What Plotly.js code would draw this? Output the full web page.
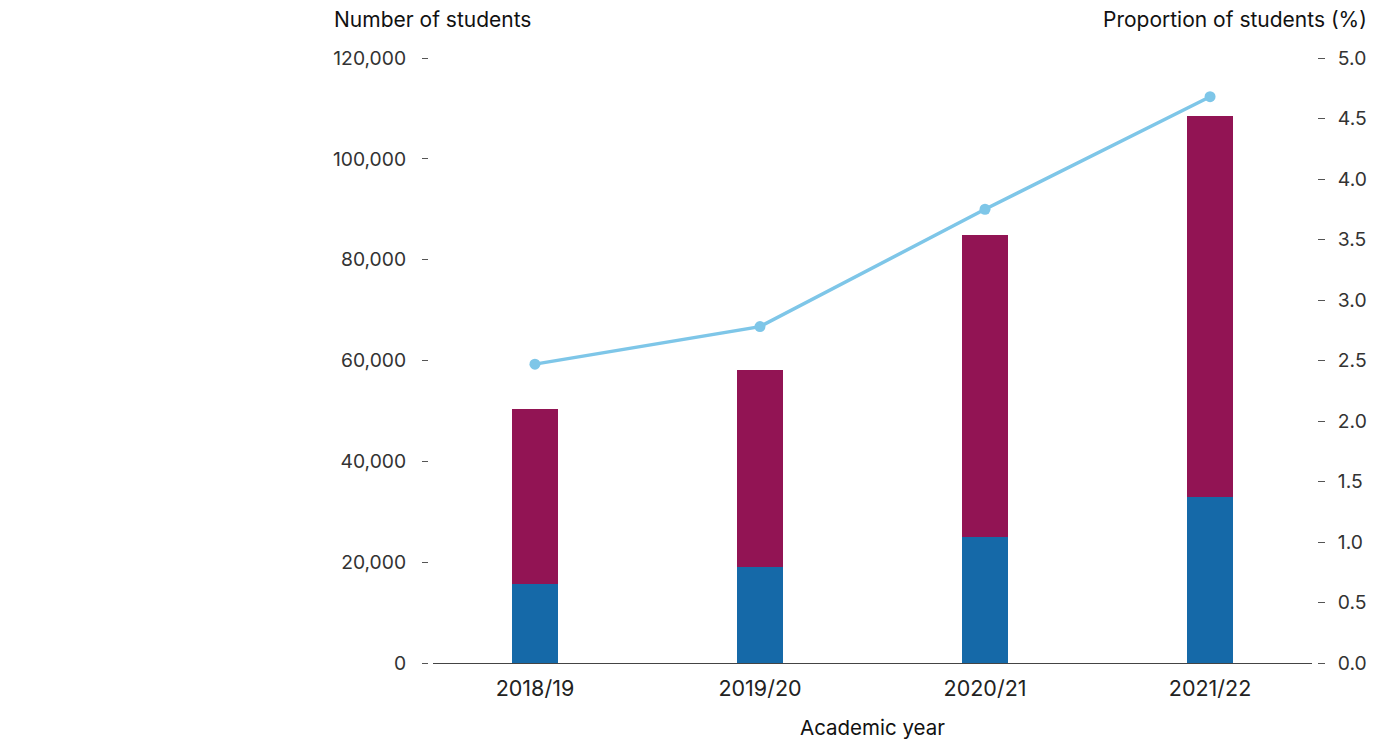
<!DOCTYPE html>
<html>
<head>
<meta charset="utf-8">
<script src="https://cdn.plot.ly/plotly-3.0.1.min.js"></script>
<style>html,body{margin:0;padding:0;background:#fff;}#chart{width:1385px;height:740px;}</style>
</head>
<body>
<div id="chart"></div>
<script>
const years = ["2018/19", "2019/20", "2020/21", "2021/22"];
const groupA = [15700, 19000, 25000, 32900];          // blue (lower segment)
const groupB = [34700, 39100, 59900, 75600];          // magenta (upper segment)
const proportion = [2.47, 2.78, 3.75, 4.68];          // % of students (right axis)
const leftTicks = [0, 20000, 40000, 60000, 80000, 100000, 120000];
const rightTicks = [0, 0.5, 1, 1.5, 2, 2.5, 3, 3.5, 4, 4.5, 5];

const FONT = "Inter, 'Liberation Sans', Arial, sans-serif";

const traces = [
  {type: "bar", x: years, y: groupA, name: "Group A", marker: {color: "#1569a8"}, width: 0.205, hoverinfo: "y"},
  {type: "bar", x: years, y: groupB, name: "Group B", marker: {color: "#921454"}, width: 0.205, hoverinfo: "y"},
  {type: "scatter", mode: "lines+markers", x: years, y: proportion, yaxis: "y2", name: "Proportion",
   line: {color: "#7ec6e8", width: 3.5}, marker: {color: "#7ec6e8", size: 11}}
];

const W = 905;
const layout = {
  width: 1385, height: 740,
  margin: {l: 420, r: 60, t: 58, b: 77},
  barmode: "stack",
  showlegend: false,
  paper_bgcolor: "#fff", plot_bgcolor: "#fff",
  font: {family: FONT, size: 18, color: "#333"},
  xaxis: {
    domain: [13 / W, 892 / W],
    range: [-0.453, 3.453],
    showline: true, linecolor: "#444", linewidth: 1,
    ticks: "", showgrid: false, zeroline: false,
    ticklabelstandoff: 6,
    tickfont: {family: FONT, size: 21.5, color: "#222"},
    title: {text: "Academic year", font: {family: FONT, size: 20.5, color: "#111"}, standoff: 22}
  },
  yaxis: {
    anchor: "free", position: 8 / W,
    range: [0, 120000], tickvals: leftTicks,
    ticktext: leftTicks.map(v => v.toLocaleString("en-US")),
    showline: false, showgrid: false, zeroline: false,
    ticks: "outside", ticklen: 6, tickwidth: 1, tickcolor: "#555",
    ticklabelstandoff: 12,
    tickfont: {family: FONT, size: 19.3, color: "#333"}
  },
  yaxis2: {
    overlaying: "y", side: "right", anchor: "free", position: 897 / W,
    range: [0, 5], tickvals: rightTicks,
    ticktext: rightTicks.map(v => v.toFixed(1)),
    showline: false, showgrid: false, zeroline: false,
    ticks: "outside", ticklen: 7, tickwidth: 1, tickcolor: "#555",
    ticklabelstandoff: 9,
    tickfont: {family: FONT, size: 19.3, color: "#333"}
  },
  annotations: [
    {text: "Number of students", xref: "paper", yref: "paper", x: (332 - 420) / W, y: (663 - 20) / 605,
     xanchor: "left", yanchor: "middle", showarrow: false, font: {family: FONT, size: 21, color: "#111"}},
    {text: "Proportion of students (%)", xref: "paper", yref: "paper", x: (1369 - 420) / W, y: (663 - 20) / 605,
     xanchor: "right", yanchor: "middle", showarrow: false, font: {family: FONT, size: 21, color: "#111"}}
  ]
};

Plotly.newPlot("chart", traces, layout, {displayModeBar: false, staticPlot: true});
</script>
</body>
</html>
